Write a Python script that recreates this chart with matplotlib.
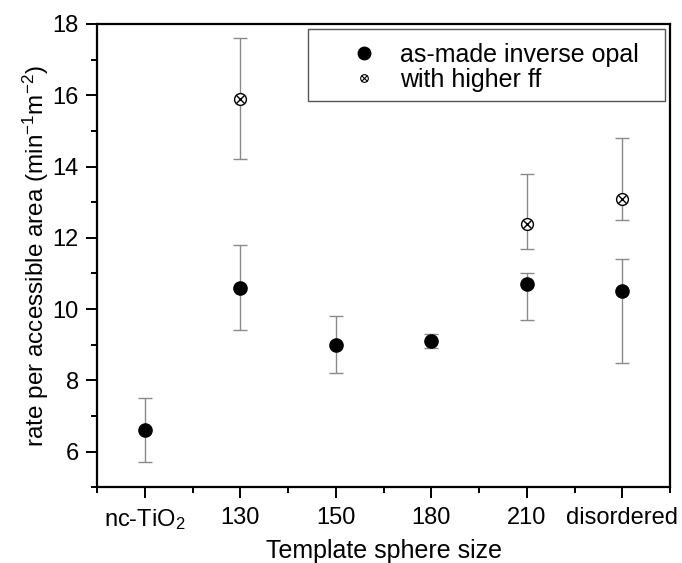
import matplotlib
matplotlib.use("Agg")
import matplotlib.pyplot as plt
from matplotlib.patches import Rectangle
from matplotlib.lines import Line2D
from matplotlib.legend_handler import HandlerTuple
from matplotlib.ticker import MultipleLocator, FixedLocator
import numpy as np

plt.rcParams['font.family'] = ['Liberation Sans', 'DejaVu Sans']
plt.rcParams['mathtext.fontset'] = 'custom'
plt.rcParams['mathtext.rm'] = 'Liberation Sans'
plt.rcParams['mathtext.it'] = 'Liberation Sans:italic'

categories = ['nc-TiO$_2$', '130', '150', '180', '210', 'disordered']

asmade_val = [6.6, 10.6, 9.0, 9.1, 10.7, 10.5]
asmade_lo = [5.7, 9.4, 8.2, 8.9, 9.7, 8.5]
asmade_hi = [7.5, 11.8, 9.8, 9.3, 11.0, 11.4]

ff_idx = [1, 4, 5]
ff_val = [15.9, 12.4, 13.1]
ff_lo = [14.2, 11.7, 12.5]
ff_hi = [17.6, 13.8, 14.8]

fig = plt.figure(figsize=(6.82, 5.63), dpi=100)
ax = fig.add_axes([97/682, 1-487.3/563, (670-97)/682, (487.3-24)/563])

x = np.arange(len(categories))
ecol = '#8a8a8a'
capcol = '#3a3a3a'

def draw(xs, v, lo, hi):
    v = np.array(v); lo = np.array(lo); hi = np.array(hi)
    eb = ax.errorbar(xs, v, yerr=[v - lo, hi - v], fmt='none', ecolor=ecol,
                     elinewidth=1.0, capsize=5, capthick=1.0, zorder=2)
    for c in eb[1]:
        c.set_color(capcol)

draw(x, asmade_val, asmade_lo, asmade_hi)
draw(np.array(ff_idx), ff_val, ff_lo, ff_hi)

ax.plot(x, asmade_val, 'o', color='black', markersize=9.5, zorder=3, linestyle='none')
ax.plot(ff_idx, ff_val, 'o', markerfacecolor='white', markeredgecolor='black',
        markeredgewidth=1.0, markersize=8.5, zorder=3, linestyle='none')
ax.plot(ff_idx, ff_val, 'x', color='black', markeredgewidth=1.0,
        markersize=6.0, zorder=4, linestyle='none')

ax.set_xlim(-0.5, len(categories) - 0.5)
ax.set_ylim(5, 18)
ax.set_xticks(x)
ax.set_xticklabels(categories)
ax.xaxis.set_minor_locator(FixedLocator(np.arange(-0.5, len(categories), 1.0)))
ax.yaxis.set_major_locator(MultipleLocator(2))
ax.yaxis.set_minor_locator(MultipleLocator(1))

for s in ax.spines.values():
    s.set_linewidth(1.6)
ax.tick_params(which='major', direction='out', length=8, width=1.4, labelsize=17, pad=5)
ax.tick_params(axis='x', which='major', pad=6.5)
ax.tick_params(which='minor', direction='out', length=4, width=1.4)

ax.set_xlabel('Template sphere size', fontsize=18, labelpad=5)
ax.set_ylabel(r'rate per accessible area (min$^{\mathregular{-1}}$m$^{\mathregular{-2}}$)',
              fontsize=17.5, labelpad=1)

# legend box
ax.add_patch(Rectangle(((308-97)/573, 1-(101-24)/463.3), (665-308)/573, (101-29)/463.3,
                       transform=ax.transAxes, facecolor='white', edgecolor='#555555',
                       linewidth=1.0, zorder=5))
lh1 = Line2D([], [], marker='o', color='black', linestyle='none', markersize=9)
lh2a = Line2D([], [], marker='o', markerfacecolor='white', markeredgecolor='black',
              markeredgewidth=0.8, linestyle='none', markersize=5.5)
lh2b = Line2D([], [], marker='x', color='black', markeredgewidth=0.8,
              linestyle='none', markersize=3.9)
leg = ax.legend([lh1, (lh2a, lh2b)], ['as-made inverse opal', 'with higher ff'],
                handler_map={tuple: HandlerTuple(ndivide=1, pad=0)},
                loc='upper left', bbox_to_anchor=(0.409, 0.997), frameon=False,
                fontsize=18, handlelength=1.2, handletextpad=0.85, labelspacing=0.05,
                borderpad=0.2)
leg.set_zorder(6)

fig.savefig('out.png', dpi=100)
